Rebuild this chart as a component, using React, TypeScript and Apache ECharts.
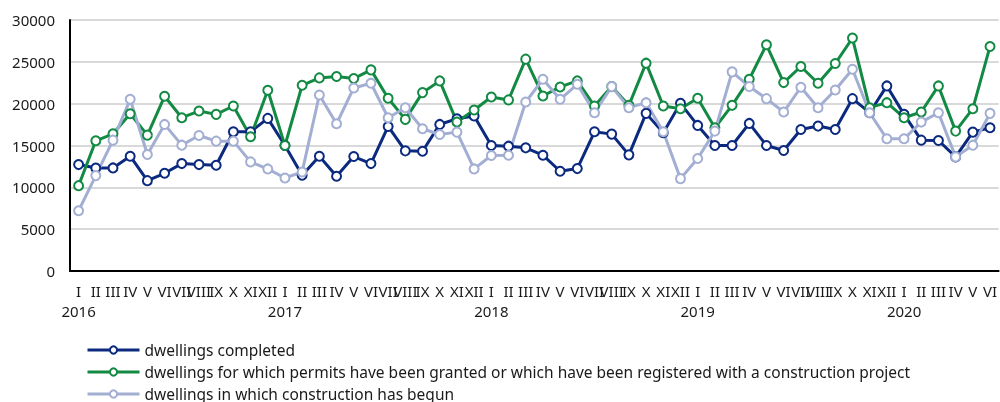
import React, { useEffect, useRef } from "react";
import * as echarts from "echarts";

const years = ["2016", "2017", "2018", "2019", "2020"];
const romanMonths = ["I", "II", "III", "IV", "V", "VI", "VII", "VIII", "IX", "X", "XI", "XII"];

const completed = [
  12720, 12300, 12320, 13720, 10800, 11680, 12840, 12720, 12640, 16640, 16640, 18240,
  15000, 11440, 13720, 11320, 13680, 12840, 17280, 14360, 14320, 17520, 18200, 18520,
  15000, 14920, 14720, 13840, 11920, 12240, 16640, 16360, 13880, 18840, 16520, 20040,
  17400, 15000, 15000, 17640, 15000, 14400, 16920, 17320, 16920, 20600, 18920, 22120,
  18720, 15640, 15600, 13640, 16600, 17120,
];

const permits = [
  10200, 15560, 16400, 18800, 16240, 20880, 18320, 19120, 18720, 19720, 16040, 21600,
  15000, 22200, 23080, 23240, 23000, 24040, 20640, 18120, 21320, 22720, 17800, 19240,
  20800, 20450, 25320, 20920, 22000, 22720, 19720, 22040, 19800, 24840, 19720, 19400,
  20640, 17120, 19800, 22920, 27040, 22520, 24440, 22440, 24800, 27840, 19520, 20120,
  18320, 19000, 22120, 16720, 19400, 26840,
];

const begun = [
  7200, 11400, 15640, 20520, 13920, 17520, 15040, 16200, 15520, 15520, 13040, 12200,
  11120, 11840, 21040, 17600, 21880, 22440, 18320, 19520, 17000, 16320, 16600, 12200,
  13800, 13840, 20200, 22920, 20520, 22320, 18920, 22040, 19520, 20120, 16640, 11040,
  13440, 16720, 23800, 22040, 20600, 19000, 21960, 19520, 21640, 24120, 18920, 15800,
  15800, 17800, 18920, 13640, 15040, 18840,
];

const seriesNames = [
  "dwellings completed",
  "dwellings for which permits have been granted or which have been registered with a construction project",
  "dwellings in which construction has begun",
];
const seriesColors = ["#0b2a7f", "#138a43", "#a3aed3"];

const categories: string[] = completed.map((_, i) => {
  const m = i % 12;
  const y = Math.floor(i / 12);
  return m === 0 ? romanMonths[m] + "\n" + years[y] : romanMonths[m];
});

const FONT = "'Noto Sans', sans-serif";

export default function App() {
  const ref = useRef<HTMLDivElement>(null);
  useEffect(() => {
    document.body.style.margin = "0";
    if (!ref.current) return;
    const chart = echarts.init(ref.current, null, { renderer: "svg" });
    const data = [completed, permits, begun];
    chart.setOption({
      animation: false,
      textStyle: { fontFamily: FONT },
      grid: { left: 70, top: 20, bottom: 131, width: 936, containLabel: false },
      legend: seriesNames.map((name, k) => ({
        orient: "horizontal",
        left: 86,
        top: 342 + k * 22,
        padding: 0,
        itemWidth: 52,
        itemHeight: 9,
        itemGap: 5,
        lineStyle: { width: 3 },
        itemStyle: { borderWidth: 2 },
        textStyle: { fontFamily: FONT, fontSize: 15.5, color: "#1a1a1a" },
        data: [name],
      })),
      xAxis: {
        type: "category",
        data: categories,
        boundaryGap: true,
        axisLine: { show: true, lineStyle: { color: "#000", width: 2 } },
        axisTick: { show: false },
        axisLabel: {
          interval: 0,
          hideOverlap: false,
          margin: 10,
          fontSize: 15,
          lineHeight: 20,
          color: "#1a1a1a",
          fontFamily: FONT,
        },
      },
      yAxis: {
        type: "value",
        min: 0,
        max: 30000,
        interval: 5000,
        axisLine: { show: true, lineStyle: { color: "#000", width: 2 } },
        axisTick: { show: false },
        axisLabel: {
          margin: 15,
          fontSize: 15,
          color: "#1a1a1a",
          fontFamily: FONT,
          formatter: (v: number) => String(v),
        },
        splitLine: { show: true, lineStyle: { color: "#d9d9d9", width: 2 } },
      },
      series: seriesNames.map((name, k) => ({
        name,
        type: "line",
        data: data[k],
        symbol: "emptyCircle",
        symbolSize: 9,
        color: seriesColors[k],
        lineStyle: { color: seriesColors[k], width: 3 },
        itemStyle: { color: seriesColors[k], borderColor: seriesColors[k], borderWidth: 2 },
      })),
    });
    return () => chart.dispose();
  }, []);
  return (
    <div
      ref={ref}
      style={{ position: "fixed", left: 0, top: 0, width: 1000, height: 402 }}
    />
  );
}
